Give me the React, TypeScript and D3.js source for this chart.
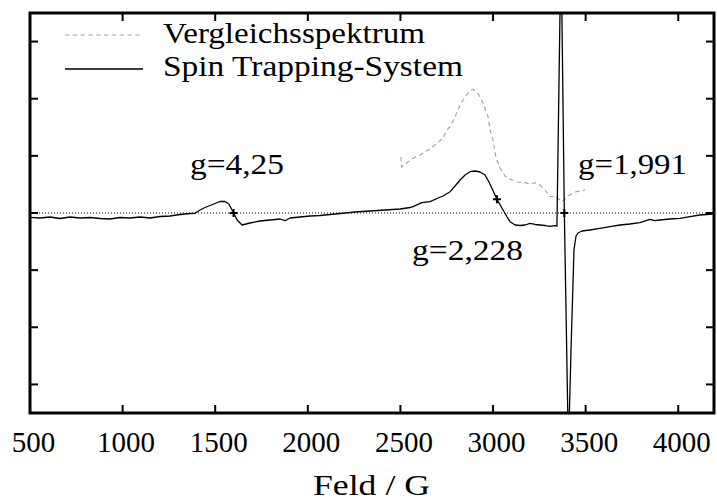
import React from "react";
import * as d3 from "d3";

// Spin Trapping-System (solid)
const FIELD_SOLID = [500, 554, 608, 662, 716, 770, 824, 878, 932, 986, 1040, 1094, 1148, 1202, 1256, 1310, 1364, 1391, 1418, 1445, 1472, 1499, 1526, 1553, 1574, 1591, 1599, 1618, 1645, 1688, 1742, 1796, 1850, 1877, 1904, 1958, 2012, 2066, 2120, 2174, 2255, 2336, 2417, 2498, 2552, 2568, 2616, 2660, 2697, 2730, 2768, 2795, 2822, 2849, 2876, 2903, 2930, 2957, 2978, 2994, 3021, 3054, 3076, 3092, 3119, 3146, 3173, 3200, 3227, 3253, 3281, 3307, 3334, 3345, 3367, 3385, 3407, 3421, 3437, 3448, 3459, 3480, 3523, 3577, 3631, 3685, 3739, 3793, 3847, 3874, 3901, 3955, 4009, 4063, 4117, 4187];
const SIGNAL_SOLID = [-0.075, -0.0875, -0.07, -0.096, -0.07, -0.0875, -0.079, -0.096, -0.105, -0.079, -0.0875, -0.07, -0.0875, -0.061, -0.0525, -0.026, -0.009, -0.005, 0.0525, 0.096, 0.131, 0.166, 0.201, 0.201, 0.1575, 0.0525, 0, -0.1225, -0.21, -0.175, -0.14, -0.1225, -0.105, -0.135, -0.0875, -0.07, -0.0525, -0.044, -0.026, -0.009, 0.0175, 0.035, 0.0525, 0.07, 0.096, 0.11, 0.18, 0.198, 0.254, 0.2975, 0.373, 0.4725, 0.5775, 0.665, 0.723, 0.735, 0.7175, 0.665, 0.5425, 0.432, 0.24, 0.0525, -0.07, -0.152, -0.21, -0.219, -0.21, -0.18, -0.201, -0.21, -0.219, -0.236, -0.219, -0.2275, 4.74, 0, -4.15, -2.4, -0.6475, -0.4025, -0.35, -0.315, -0.2975, -0.268, -0.24, -0.21, -0.1925, -0.17, -0.11, -0.135, -0.1225, -0.105, -0.093, -0.065, -0.035, -0.0175];

// Vergleichsspektrum (dashed)
const FIELD_REF = [2503, 2506, 2525, 2552, 2579, 2606, 2633, 2660, 2697, 2730, 2751, 2768, 2795, 2822, 2849, 2876, 2892, 2919, 2946, 2973, 2984, 3000, 3011, 3021, 3038, 3065, 3092, 3129, 3173, 3200, 3227, 3253, 3281, 3307, 3334, 3361, 3372, 3388, 3405, 3443, 3497];
const SIGNAL_REF = [0.98, 0.805, 0.8575, 0.919, 0.975, 1.015, 1.073, 1.12, 1.22, 1.307, 1.4525, 1.51, 1.685, 1.89, 2.035, 2.14, 2.165, 2.095, 1.92, 1.685, 1.4525, 1.2775, 1.05, 0.9275, 0.7875, 0.6475, 0.595, 0.5425, 0.53, 0.5075, 0.53, 0.49, 0.4025, 0.285, 0.2975, 0.2275, 0.198, 0.245, 0.2975, 0.3675, 0.4025];

const MARKER_FIELD = [1599, 3021, 3385];
const MARKER_SIGNAL = [0, 0.24, 0];

const X_TICKS = [500, 1000, 1500, 2000, 2500, 3000, 3500, 4000];
const Y_TICKS = [-3, -2, -1, 0, 1, 2, 3];

const LEGEND_LABELS = ["Vergleichsspektrum", "Spin Trapping-System"];
const ANNOTATIONS = ["g=4,25", "g=2,228", "g=1,991"];
const X_LABEL = "Feld / G";

const W = 717;
const H = 501;
const L = 30, R = 714, T = 13, B = 413;
const textStyle = { fontFamily: '"Liberation Serif"', fontSize: "29px" } as React.CSSProperties;

export default function App() {
  const x = d3.scaleLinear().domain([500, 4193]).range([L, R]);
  const y = d3.scaleLinear().domain([-3.5, 3.5]).range([B, T]);

  const solid = FIELD_SOLID.map((f, i) => [f, SIGNAL_SOLID[i]] as [number, number]);
  const ref = FIELD_REF.map((f, i) => [f, SIGNAL_REF[i]] as [number, number]);
  const line = d3
    .line<[number, number]>()
    .x((d) => x(d[0]))
    .y((d) => y(d[1]));

  const tick = 8;
  const annPos = [
    { x: 190, y: 173.5, len: 94 },
    { x: 412, y: 259.5, len: 111 },
    { x: 578, y: 173.5, len: 109 },
  ];

  return (
    <svg
      width={W}
      height={H}
      style={{ position: "absolute", left: 0, top: 0, background: "#fff" }}
    >
      <defs>
        <clipPath id="plot">
          <rect x={L} y={T} width={R - L} height={B - T} />
        </clipPath>
      </defs>
      <rect x={0} y={0} width={W} height={H} fill="#fff" />

      {/* zero line */}
      <line
        x1={L}
        x2={R}
        y1={y(0)}
        y2={y(0)}
        stroke="#000"
        strokeWidth={1}
        strokeDasharray="1,2"
      />

      <g clipPath="url(#plot)">
        <path
          d={line(ref) || ""}
          fill="none"
          stroke="#a0a0a0"
          strokeWidth={1.1}
          strokeDasharray="4.5,3.3"
        />
        <path
          d={line(solid) || ""}
          fill="none"
          stroke="#000"
          strokeWidth={1.3}
          strokeLinejoin="round"
        />
        {MARKER_FIELD.map((f, i) => (
          <path
            key={i}
            d={`M${x(f) - 4},${y(MARKER_SIGNAL[i])}h8M${x(f)},${y(MARKER_SIGNAL[i]) - 4}v8`}
            stroke="#000"
            strokeWidth={2}
          />
        ))}
      </g>

      {/* ticks */}
      {X_TICKS.map((v) => (
        <g key={"xt" + v}>
          <line x1={x(v)} x2={x(v)} y1={B} y2={B - tick} stroke="#000" strokeWidth={2} />
          <line x1={x(v)} x2={x(v)} y1={T} y2={T + tick} stroke="#000" strokeWidth={2} />
          <text x={x(v) + 3.5} y={451.5} textAnchor="middle" style={textStyle} fill="#000">
            {v}
          </text>
        </g>
      ))}
      {Y_TICKS.map((v) => (
        <g key={"yt" + v}>
          <line x1={L} x2={L + tick} y1={y(v)} y2={y(v)} stroke="#000" strokeWidth={2} />
          <line x1={R} x2={R - tick} y1={y(v)} y2={y(v)} stroke="#000" strokeWidth={2} />
        </g>
      ))}

      {/* frame */}
      <rect x={L} y={T} width={R - L} height={B - T} fill="none" stroke="#000" strokeWidth={3} />

      {/* legend */}
      <line x1={65} x2={143} y1={35} y2={35} stroke="#a0a0a0" strokeWidth={1.1} strokeDasharray="4.5,3.3" />
      <text x={163} y={42.5} style={textStyle} textLength={262} lengthAdjust="spacingAndGlyphs" fill="#000">
        {LEGEND_LABELS[0]}
      </text>
      <line x1={65} x2={143} y1={69} y2={69} stroke="#000" strokeWidth={1.3} />
      <text x={163} y={75.5} style={textStyle} textLength={300} lengthAdjust="spacingAndGlyphs" fill="#000">
        {LEGEND_LABELS[1]}
      </text>

      {/* annotations */}
      {ANNOTATIONS.map((a, i) => (
        <text
          key={a}
          x={annPos[i].x}
          y={annPos[i].y}
          style={textStyle}
          textLength={annPos[i].len}
          lengthAdjust="spacingAndGlyphs"
          fill="#000"
        >
          {a}
        </text>
      ))}

      {/* x axis label */}
      <text x={313} y={495} style={textStyle} textLength={117} lengthAdjust="spacingAndGlyphs" fill="#000">
        {X_LABEL}
      </text>
    </svg>
  );
}
